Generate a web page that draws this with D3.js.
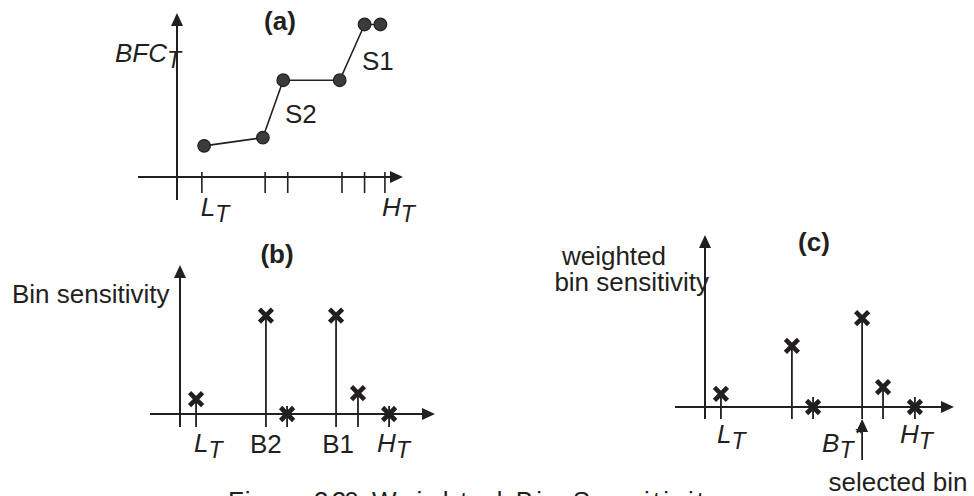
<!DOCTYPE html>
<html>
<head>
<meta charset="utf-8">
<title>Weighted Bin Sensitivity</title>
<script src="https://cdn.jsdelivr.net/npm/d3@7"></script>
<style>
  body { margin: 0; background: #fff; }
  svg text { font-family: 'Liberation Sans', Arial, sans-serif; font-size: 26px; fill: #231f20; }
  .it { font-style: italic; }
  .ttl { font-weight: bold; }
</style>
</head>
<body>
<svg id="chart" width="974" height="496"></svg>
<script>
// (a) bin filling cost against threshold
const ticksA = [1.1, 3.9, 4.9, 7.3, 8.3, 9.2];
const bfcX = [1.2, 3.8, 4.7, 7.2, 8.3, 9.0];
const bfcY = [1.9, 2.4, 5.9, 5.9, 9.3, 9.3];

// (b) bin sensitivity per bin
const binsB = [0.63, 3.37, 4.2, 6.12, 6.98, 8.2];
const sensB = [1.0, 6.6, 0, 6.6, 1.4, 0];

// (c) weighted bin sensitivity per bin
const binsC = [0.64, 3.49, 4.34, 6.31, 7.15, 8.43];
const sensC = [0.76, 3.55, 0, 5.17, 1.16, 0];

const ink = "#231f20";
const svg = d3.select("#chart");

// panel layout: origin, arrow tips, and how far the axes run past the origin
const panels = {
  a: { x0: 177, y0: 177, xTip: 403, yTip: 13, xStart: 138, yEnd: 200 },
  b: { x0: 180, y0: 414, xTip: 435, yTip: 265, xStart: 150, yEnd: 427 },
  c: { x0: 705, y0: 407, xTip: 954, yTip: 235, xStart: 675, yEnd: 419 }
};

function scales(p) {
  return {
    x: d3.scaleLinear().domain([0, 10]).range([p.x0, p.xTip]),
    y: d3.scaleLinear().domain([0, 10]).range([p.y0, p.yTip])
  };
}

function arrowHead(g, x, y, dir) {
  const L = 13, w = 6;
  const pts = dir === "up"
    ? [[x, y], [x - w, y + L], [x + w, y + L]]
    : [[x, y], [x - L, y - w], [x - L, y + w]];
  g.append("path").attr("d", d3.line()(pts) + "Z").attr("fill", ink);
}

function drawAxes(p) {
  const g = svg.append("g");
  g.append("line").attr("x1", p.x0).attr("x2", p.x0).attr("y1", p.yEnd).attr("y2", p.yTip + 4)
    .attr("stroke", ink).attr("stroke-width", 2);
  g.append("line").attr("x1", p.xStart).attr("x2", p.xTip - 4).attr("y1", p.y0).attr("y2", p.y0)
    .attr("stroke", ink).attr("stroke-width", 2);
  arrowHead(g, p.x0, p.yTip, "up");
  arrowHead(g, p.xTip, p.y0, "right");
  return g;
}

const cross = "M-6.5,-6.5L6.5,6.5M-6.5,6.5L6.5,-6.5";

// ---- panel (a)
const pa = panels.a, sa = scales(pa);
const ga = drawAxes(pa);
ga.selectAll(".tick").data(ticksA).join("line")
  .attr("x1", d => sa.x(d)).attr("x2", d => sa.x(d))
  .attr("y1", pa.y0 - 5).attr("y2", pa.y0 + 16)
  .attr("stroke", ink).attr("stroke-width", 1.6);
const ptsA = bfcX.map((d, i) => [d, bfcY[i]]);
ga.append("path")
  .attr("d", d3.line().x(d => sa.x(d[0])).y(d => sa.y(d[1]))(ptsA))
  .attr("fill", "none").attr("stroke", ink).attr("stroke-width", 1.6);
ga.selectAll(".pt").data(ptsA).join("circle")
  .attr("cx", d => sa.x(d[0])).attr("cy", d => sa.y(d[1])).attr("r", 6.3)
  .attr("fill", "#3b3b3b").attr("stroke", ink).attr("stroke-width", 1.2);

// ---- stem panels (b) and (c)
function stems(p, s, bins, vals, below, zeroAbove) {
  const g = drawAxes(p);
  const d = bins.map((b, i) => [b, vals[i]]);
  g.selectAll(".stem").data(d).join("line")
    .attr("x1", e => s.x(e[0])).attr("x2", e => s.x(e[0]))
    .attr("y1", e => e[1] > 0 ? s.y(e[1]) : p.y0 - zeroAbove)
    .attr("y2", p.y0 + below)
    .attr("stroke", ink).attr("stroke-width", 1.8);
  g.selectAll(".mk").data(d).join("path")
    .attr("d", cross)
    .attr("transform", e => `translate(${s.x(e[0])},${s.y(e[1])})`)
    .attr("fill", "none").attr("stroke", ink).attr("stroke-width", 4.6);
  return g;
}
const pb = panels.b, sb = scales(pb);
stems(pb, sb, binsB, sensB, 13, 8);
const pc = panels.c, sc = scales(pc);
const gc = stems(pc, sc, binsC, sensC, 12, 10);

// selected bin arrow under B_T*
const selX = sc.x(binsC[3]);
gc.append("line").attr("x1", selX).attr("x2", selX).attr("y1", pc.y0 + 20).attr("y2", pc.y0 + 53)
  .attr("stroke", ink).attr("stroke-width", 1.8);
arrowHead(gc, selX, pc.y0 + 12, "up");

// ---- text
function label(x, y, main, sub, opts = {}) {
  const t = svg.append("text").attr("x", x).attr("y", y);
  if (opts.italic) t.attr("class", "it");
  if (opts.anchor) t.attr("text-anchor", opts.anchor);
  t.append("tspan").text(main);
  if (sub) t.append("tspan").attr("dy", 6).attr("font-size", 23).text(sub);
  if (opts.sup) t.append("tspan").attr("dy", -18).attr("dx", 1).attr("font-size", 19).text(opts.sup);
  return t;
}

svg.append("text").attr("class", "ttl").attr("x", 280).attr("y", 30).attr("text-anchor", "middle").text("(a)");
label(115, 62, "BFC", "T", { italic: true });
label(362, 70, "S1");
label(285, 123, "S2");
label(sa.x(ticksA[0]) - 1, 216, "L", "T", { italic: true });
label(sa.x(ticksA[5]) - 3, 216, "H", "T", { italic: true });

svg.append("text").attr("class", "ttl").attr("x", 277).attr("y", 263).attr("text-anchor", "middle").text("(b)");
label(12, 303, "Bin sensitivity");
label(sb.x(binsB[0]) - 2, 452, "L", "T", { italic: true });
label(sb.x(binsB[1]), 453, "B2", null, { anchor: "middle" });
label(sb.x(binsB[3]) + 2, 453, "B1", null, { anchor: "middle" });
label(sb.x(binsB[5]) - 12, 452, "H", "T", { italic: true });

svg.append("text").attr("class", "ttl").attr("x", 814).attr("y", 251).attr("text-anchor", "middle").text("(c)");
label(666, 265, "weighted", null, { anchor: "end" });
label(709, 291, "bin sensitivity", null, { anchor: "end" });
label(sc.x(binsC[0]) - 4, 443, "L", "T", { italic: true });
label(sc.x(binsC[3]) - 40, 452, "B", "T", { italic: true, sup: "*" });
label(sc.x(binsC[5]) - 15, 443, "H", "T", { italic: true });
label(898, 491, "selected bin", null, { anchor: "middle" });

// caption, cut by the bottom edge as in the source
const cap = svg.append("g").attr("font-size", 30);
cap.append("text").attr("x", 228).attr("y", 510)
  .attr("font-family", "'Liberation Serif', 'Times New Roman', serif")
  .attr("textLength", 78).text("Figure");
cap.append("text").attr("x", 314).attr("y", 510).attr("textLength", 50).text("3.20.");
cap.append("text").attr("x", 372).attr("y", 510).attr("textLength", 348).text("Weighted Bin Sensitivity");
</script>
</body>
</html>
